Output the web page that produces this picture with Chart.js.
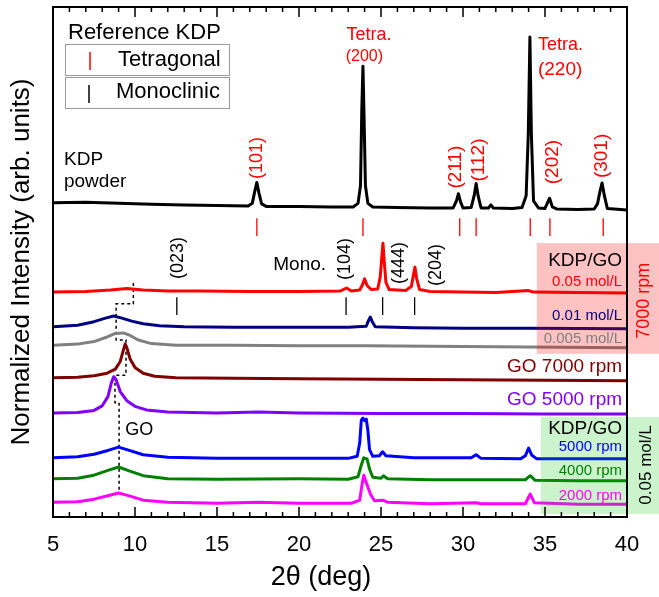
<!DOCTYPE html>
<html>
<head>
<meta charset="utf-8">
<script src="https://cdn.jsdelivr.net/npm/chart.js@4.4.1/dist/chart.umd.min.js"></script>
<style>
    html, body { margin: 0; padding: 0; background: #fff; }
    canvas { display: block; }
</style>
</head>
<body>
<canvas id="xrdChart" width="659" height="597"></canvas>
<script>
// 2theta range and tick labels
const xTicks = [5, 10, 15, 20, 25, 30, 35, 40];

// Stacked XRD traces, [2theta (deg), normalized intensity + offset]
const kdpPowder = [
    [5, 61.6], [7, 61.7], [9, 61.5], [11, 61.3], [13, 61.2], [15, 61.1], [16.9, 61.0],
    [17.15, 61.5], [17.3, 63.8], [17.43, 65.6], [17.56, 63.5], [17.72, 61.4], [18, 60.9],
    [20, 60.9], [22, 60.8], [23.3, 60.8], [23.6, 61.5], [23.75, 65], [23.83, 80], [23.9, 88.4],
    [23.97, 78], [24.05, 65], [24.2, 61.5], [24.5, 60.8], [26, 60.7], [28, 60.6], [29.4, 60.6],
    [29.6, 62.0], [29.72, 63.4], [29.85, 61.8], [30.0, 60.6], [30.5, 60.7], [30.68, 63.0],
    [30.8, 65.4], [30.92, 63.0], [31.1, 60.6], [31.55, 60.6], [31.7, 61.2], [31.85, 60.6],
    [33, 60.5], [33.6, 60.7], [33.85, 63.0], [33.98, 75], [34.08, 94.1], [34.17, 75], [34.3, 62.0],
    [34.6, 60.6], [35.0, 60.5], [35.15, 61.6], [35.28, 62.5], [35.45, 60.8], [35.7, 60.4],
    [37, 60.3], [38.0, 60.4], [38.2, 61.4], [38.35, 63.8], [38.48, 65.5], [38.62, 63.0],
    [38.8, 60.5], [40, 60.2]
];
const kdpGo005 = [
    [5, 44.1], [7, 44.2], [8.5, 44.5], [9.5, 44.8], [10.5, 44.5], [12, 44.3], [14, 44.3],
    [17, 44.2], [20, 44.2], [22.5, 44.3], [22.9, 44.9], [23.2, 44.3], [23.7, 44.5], [23.85, 45.4],
    [24.0, 46.7], [24.15, 45.4], [24.4, 44.6], [24.8, 44.7], [24.95, 47], [25.05, 51], [25.12, 53.7],
    [25.2, 50], [25.3, 46], [25.5, 44.6], [26.5, 44.4], [26.85, 45.2], [26.98, 47.5], [27.07, 49.0],
    [27.17, 46.8], [27.35, 44.6], [28, 44.2], [30, 44.1], [32, 44.0], [34, 44.4], [34.3, 44.1],
    [37, 44.0], [40, 43.9]
];
const kdpGo001 = [
    [5, 37.3], [6.5, 37.6], [7.5, 38.3], [8.2, 39.0], [8.7, 39.4], [9.2, 39.0], [9.8, 38.4],
    [10.5, 37.9], [11.5, 37.5], [13, 37.3], [16, 37.2], [20, 37.2], [23, 37.2], [24.1, 37.4],
    [24.25, 38.6], [24.35, 39.2], [24.45, 38.4], [24.65, 37.3], [27, 37.1], [30, 37.0], [34, 37.0],
    [40, 36.9]
];
const kdpGo0005 = [
    [5, 33.7], [6.5, 33.9], [7.5, 34.4], [8.3, 35.3], [8.8, 36.0], [9.3, 36.1], [9.7, 35.6],
    [10.2, 34.7], [11, 34.0], [12.5, 33.7], [16, 33.7], [20, 33.6], [24, 33.6], [28, 33.5],
    [32, 33.4], [36, 33.3], [40, 33.2]
];
const go7000 = [
    [5, 27.3], [6.5, 27.4], [7.5, 27.7], [8.3, 28.2], [8.8, 29.0], [9.1, 30.5], [9.3, 32.8],
    [9.4, 33.9], [9.5, 33.2], [9.7, 31.0], [10.0, 29.3], [10.5, 28.2], [11.2, 27.6], [12.5, 27.3],
    [16, 27.2], [20, 27.1], [25, 27.0], [30, 26.9], [35, 26.8], [40, 26.7]
];
const go5000 = [
    [5, 20.4], [6.5, 20.5], [7.5, 20.9], [8.0, 21.8], [8.35, 23.6], [8.55, 26.2], [8.7, 27.5],
    [8.85, 26.9], [9.1, 24.6], [9.5, 22.8], [10.0, 21.7], [10.7, 21.0], [12, 20.6], [15, 20.4],
    [17.5, 20.6], [20, 20.4], [25, 20.3], [30, 20.3], [35, 20.2], [40, 20.2]
];
const rpm5000 = [
    [5, 11.6], [6.5, 11.8], [7.5, 12.3], [8.4, 13.1], [9.0, 13.7], [9.6, 13.1], [10.5, 12.2],
    [12, 11.7], [15, 11.5], [20, 11.5], [23.0, 11.5], [23.55, 11.9], [23.7, 14.5], [23.8, 19.0],
    [23.9, 19.4], [24.0, 18.9], [24.1, 19.2], [24.2, 17.0], [24.3, 13.2], [24.5, 11.9], [24.9, 12.0],
    [25.1, 12.8], [25.3, 12.0], [27, 11.6], [30.5, 11.6], [30.8, 12.2], [31.1, 11.5], [33.5, 11.4],
    [33.8, 12.0], [34.0, 13.5], [34.2, 12.1], [34.5, 11.4], [37, 11.4], [40, 11.4]
];
const rpm4000 = [
    [5, 7.5], [6.5, 7.6], [7.5, 8.2], [8.4, 9.2], [9.0, 9.8], [9.6, 9.1], [10.5, 8.1], [12, 7.5],
    [15, 7.4], [20, 7.5], [23.0, 7.4], [23.6, 7.9], [23.8, 10.2], [23.95, 11.6], [24.15, 11.4],
    [24.3, 9.4], [24.5, 7.8], [25.0, 7.6], [25.15, 8.1], [25.4, 7.5], [28, 7.3], [31, 7.3],
    [33.8, 7.3], [34.1, 8.1], [34.4, 7.2], [37, 7.1], [40, 7.1]
];
const rpm2000 = [
    [5, 2.9], [6.5, 3.0], [7.5, 3.5], [8.4, 4.2], [9.0, 4.7], [9.6, 4.2], [10.5, 3.3], [12, 2.9],
    [15, 2.7], [17.5, 2.9], [20, 2.7], [23.2, 2.7], [23.7, 3.3], [23.85, 6.5], [23.95, 8.2],
    [24.05, 7.2], [24.2, 5.9], [24.35, 4.5], [24.6, 3.2], [25.1, 3.3], [25.4, 2.9], [28, 2.6],
    [30.8, 2.8], [31.1, 2.6], [33.8, 2.6], [34.1, 4.5], [34.35, 2.8], [37, 2.5], [40, 2.5]
];
// GO peak guide (dotted line)
const goGuide = [
    [9.9, 45.9], [9.9, 41.8], [8.85, 41.8], [8.85, 34.7], [9.45, 34.7], [9.45, 27.8],
    [8.78, 27.8], [8.78, 22.4], [9.03, 22.4], [9.03, 4.5]
];

// Reference KDP peak positions (2theta)
const tetraRefs = [17.43, 23.9, 29.8, 30.8, 34.1, 35.3, 38.55];
const monoRefs = [12.55, 22.87, 25.1, 27.05];

const FONT = "'Liberation Sans', Arial, sans-serif";

function toXY(arr) {
    return arr.map(p => ({ x: p[0], y: p[1] }));
}

function trace(data, color) {
    return {
        data: toXY(data),
        showLine: true,
        borderColor: color,
        borderWidth: 3,
        borderJoinStyle: 'round',
        pointRadius: 0,
        tension: 0,
        fill: false
    };
}

function txt(ctx, s, x, y, size, color, align, rot) {
    ctx.save();
    ctx.font = size + 'px ' + FONT;
    ctx.fillStyle = color;
    ctx.textAlign = align || 'left';
    ctx.textBaseline = 'middle';
    ctx.translate(x, y);
    if (rot) ctx.rotate(-Math.PI / 2);
    ctx.fillText(s, 0, 0);
    ctx.restore();
}

const decor = {
    id: 'decor',
    afterDatasetsDraw(chart) {
        const ctx = chart.ctx;
        const a = chart.chartArea;
        const xs = chart.scales.x;
        const ys = chart.scales.y;
        const X = v => xs.getPixelForValue(v);
        const Y = v => ys.getPixelForValue(v);

        // shaded label boxes
        ctx.save();
        ctx.fillStyle = 'rgba(255, 0, 0, 0.24)';
        ctx.fillRect(X(34.5), Y(53.7), chart.width - X(34.5), Y(32.0) - Y(53.7));
        ctx.fillStyle = 'rgba(0, 200, 0, 0.2)';
        ctx.fillRect(X(34.75), Y(19.6), chart.width - X(34.75), Y(0.6) - Y(19.6));
        ctx.restore();

        // frame
        ctx.save();
        ctx.strokeStyle = '#000';
        ctx.lineWidth = 2;
        ctx.strokeRect(a.left, a.top, a.right - a.left, a.bottom - a.top);

        // inward ticks on top and bottom
        ctx.lineWidth = 1.5;
        for (let v = 5; v <= 40; v++) {
            const len = v % 5 === 0 ? 10 : 5;
            const px = X(v);
            ctx.beginPath();
            ctx.moveTo(px, a.bottom);
            ctx.lineTo(px, a.bottom - len);
            ctx.moveTo(px, a.top);
            ctx.lineTo(px, a.top + len);
            ctx.stroke();
        }

        // reference tick marks
        ctx.lineWidth = 1.3;
        ctx.strokeStyle = '#ff0000';
        tetraRefs.forEach(v => {
            ctx.beginPath();
            ctx.moveTo(X(v), Y(58.6));
            ctx.lineTo(X(v), Y(55.1));
            ctx.stroke();
        });
        ctx.strokeStyle = '#000';
        monoRefs.forEach(v => {
            ctx.beginPath();
            ctx.moveTo(X(v), Y(43.1));
            ctx.lineTo(X(v), Y(39.6));
            ctx.stroke();
        });
        ctx.restore();

        // legend
        ctx.save();
        ctx.strokeStyle = '#999';
        ctx.lineWidth = 1;
        ctx.strokeRect(65.5, 44.5, 164, 31);
        ctx.strokeRect(65.5, 77.5, 164, 31);
        ctx.lineWidth = 1.5;
        ctx.strokeStyle = '#ff0000';
        ctx.beginPath(); ctx.moveTo(90, 52); ctx.lineTo(90, 70); ctx.stroke();
        ctx.strokeStyle = '#000';
        ctx.beginPath(); ctx.moveTo(89, 85); ctx.lineTo(89, 103); ctx.stroke();
        ctx.restore();
        txt(ctx, 'Reference KDP', 68, 33, 22, '#000');
        txt(ctx, 'Tetragonal', 118, 60, 22, '#000');
        txt(ctx, 'Monoclinic', 116, 92, 22, '#000');

        // peak labels (tetragonal)
        const red = '#ff0000';
        txt(ctx, '(101)', X(17.46), Y(70.4), 18, red, 'center', true);
        txt(ctx, 'Tetra.', X(22.9), Y(94.5), 18, red);
        txt(ctx, '(200)', X(22.85), Y(90.2), 16, red);
        txt(ctx, 'Tetra.', X(34.57), Y(92.5), 18, red);
        txt(ctx, '(220)', X(34.57), Y(87.6), 19, red);
        txt(ctx, '(211)', X(29.56), Y(68.6), 19, red, 'center', true);
        txt(ctx, '(112)', X(30.96), Y(70.0), 19, red, 'center', true);
        txt(ctx, '(202)', X(35.48), Y(69.6), 19, red, 'center', true);
        txt(ctx, '(301)', X(38.47), Y(70.8), 19, red, 'center', true);
        txt(ctx, 'KDP', X(5.67), Y(70.0), 19, '#000');
        txt(ctx, 'powder', X(5.67), Y(65.7), 19, '#000');

        // peak labels (monoclinic)
        txt(ctx, '(023)', X(12.63), Y(50.8), 18, '#000', 'center', true);
        txt(ctx, 'Mono.', X(18.43), Y(49.4), 19, '#000');
        txt(ctx, '(104)', X(22.83), Y(50.6), 18, '#000', 'center', true);
        txt(ctx, '(444)', X(26.07), Y(49.8), 18, '#000', 'center', true);
        txt(ctx, '(204)', X(28.33), Y(49.4), 18, '#000', 'center', true);
        txt(ctx, 'GO', X(9.4), Y(17.1), 18, '#000');

        // sample labels
        const rx = X(39.7);
        txt(ctx, 'KDP/GO', rx, Y(50.2), 19, '#000', 'right');
        txt(ctx, '0.05 mol/L', rx, Y(46.1), 15, '#ff0000', 'right');
        txt(ctx, '0.01 mol/L', rx, Y(39.4), 15, '#000080', 'right');
        txt(ctx, '0.005 mol/L', rx, Y(34.9), 15, '#808080', 'right');
        txt(ctx, 'GO 7000 rpm', rx, Y(29.4), 19, '#800000', 'right');
        txt(ctx, 'GO 5000 rpm', rx, Y(22.9), 19, '#8000ff', 'right');
        txt(ctx, 'KDP/GO', rx, Y(17.3), 19, '#000', 'right');
        txt(ctx, '5000 rpm', rx, Y(13.7), 15, '#0000ff', 'right');
        txt(ctx, '4000 rpm', rx, Y(9.0), 15, '#008000', 'right');
        txt(ctx, '2000 rpm', rx, Y(4.1), 15, '#ff00ff', 'right');
        txt(ctx, '7000 rpm', X(41.04), Y(42.4), 18, '#ff0000', 'center', true);
        txt(ctx, '0.05 mol/L', X(41.16), Y(10.2), 17, '#000', 'center', true);

        // x axis title
        txt(ctx, '2\u03B8 (deg)', 321, 578, 27, '#000', 'center');
    }
};

const ctx = document.getElementById('xrdChart').getContext('2d');
new Chart(ctx, {
    type: 'scatter',
    data: {
        datasets: [
            trace(kdpPowder, '#000000'),
            trace(kdpGo005, '#ff0000'),
            trace(kdpGo001, '#000080'),
            trace(kdpGo0005, '#808080'),
            trace(go7000, '#800000'),
            trace(go5000, '#8000ff'),
            trace(rpm5000, '#0000ff'),
            trace(rpm4000, '#008000'),
            trace(rpm2000, '#ff00ff'),
            {
                data: toXY(goGuide),
                showLine: true,
                borderColor: '#000',
                borderWidth: 1.5,
                borderDash: [3, 3],
                pointRadius: 0,
                tension: 0
            }
        ]
    },
    options: {
        responsive: false,
        animation: false,
        layout: { padding: { top: 7, right: 32, left: 0, bottom: 0 } },
        plugins: { legend: { display: false }, tooltip: { enabled: false } },
        scales: {
            x: {
                type: 'linear',
                min: 5,
                max: 40,
                afterBuildTicks: s => { s.ticks = xTicks.map(v => ({ value: v })); },
                ticks: { font: { size: 22, family: FONT }, color: '#000', padding: 7, maxRotation: 0 },
                grid: { display: false },
                border: { display: false },
                afterFit: s => { s.height = 80; }
            },
            y: {
                min: 0,
                max: 100,
                ticks: { display: false },
                grid: { display: false },
                border: { display: false },
                title: {
                    display: true,
                    text: 'Normalized Intensity (arb. units)',
                    font: { size: 26, family: FONT },
                    color: '#000',
                    padding: { top: 6, bottom: 0 }
                },
                afterFit: s => { s.width = 53; }
            }
        }
    },
    plugins: [decor]
});
</script>
</body>
</html>
